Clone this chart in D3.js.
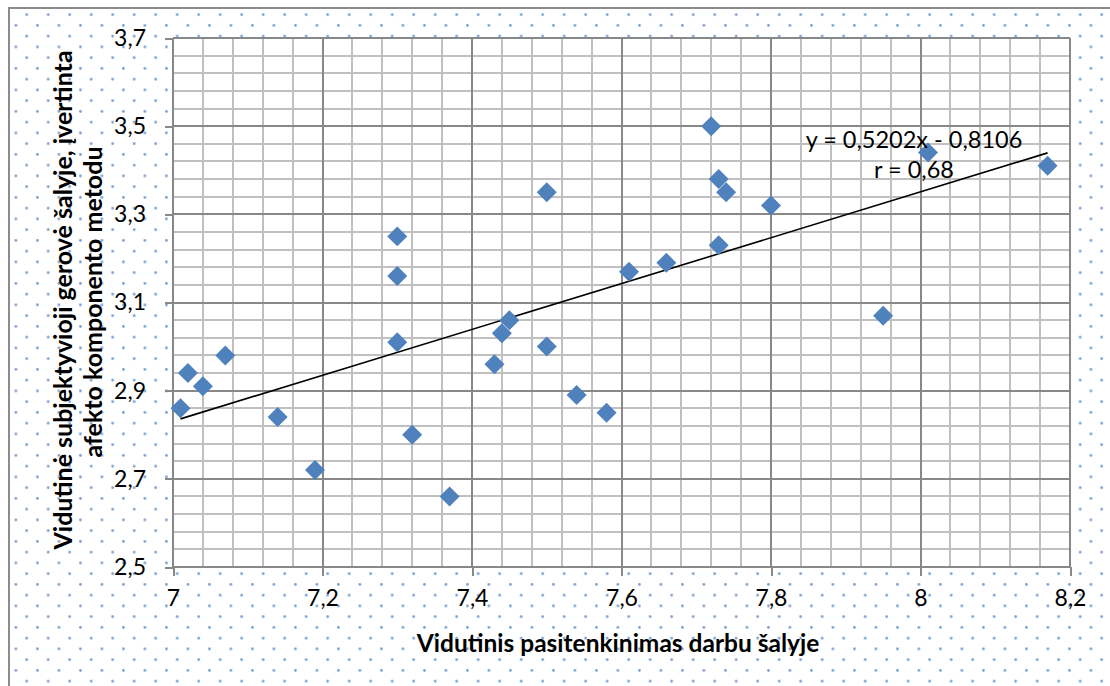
<!DOCTYPE html>
<meta charset="utf-8">
<style>
body { margin: 0; background: #fff; font-family: Lato, "Open Sans", sans-serif; }
.grid-minor line { stroke: #c0c0c0; stroke-width: 2; shape-rendering: crispEdges; }
.grid-major line { stroke: #888888; stroke-width: 2; shape-rendering: crispEdges; }
.axis path { display: none; }
.axis line { stroke: #888888; stroke-width: 2; shape-rendering: crispEdges; }
.axis text { font-family: Lato, sans-serif; font-size: 23px; fill: #000; }
.title { font-family: Lato, sans-serif; font-weight: bold; fill: #000; }
</style>
<script src="https://d3js.org/d3.v7.min.js"></script>
<body>
<div id="chart"></div>
<script>
// data
var xVals = [7.01, 7.02, 7.04, 7.07, 7.14, 7.19, 7.30, 7.30, 7.30, 7.32, 7.37, 7.43, 7.44, 7.45,
             7.50, 7.50, 7.54, 7.58, 7.61, 7.66, 7.72, 7.73, 7.74, 7.73, 7.80, 7.95, 8.01, 8.17];
var yVals = [2.86, 2.94, 2.91, 2.98, 2.84, 2.72, 3.25, 3.16, 3.01, 2.80, 2.66, 2.96, 3.03, 3.06,
             3.35, 3.00, 2.89, 2.85, 3.17, 3.19, 3.50, 3.38, 3.35, 3.23, 3.32, 3.07, 3.44, 3.41];
var xTicks = [7, 7.2, 7.4, 7.6, 7.8, 8, 8.2];
var yTicks = [2.5, 2.7, 2.9, 3.1, 3.3, 3.5, 3.7];
var trend = {slope: 0.5202, intercept: -0.8106};
var eqLabel = "y = 0,5202x - 0,8106";
var rLabel = "r = 0,68";
var xTitle = "Vidutinis pasitenkinimas darbu šalyje";
var yTitle = ["Vidutinė subjektyvioji gerovė šalyje, įvertinta", "afekto komponento metodu"];

var W = 1110, H = 686;
var margin = {top: 38, right: 40, bottom: 119, left: 173},
    width = 1070 - margin.left,
    height = 567 - margin.top;

var svg = d3.select("#chart").append("svg")
  .attr("width", W).attr("height", H);

// dotted background pattern
var pat = svg.append("defs").append("pattern")
  .attr("id", "dots")
  .attr("patternUnits", "userSpaceOnUse")
  .attr("x", -0.2).attr("y", 9.3)
  .attr("width", 21.5).attr("height", 21.5);
pat.append("circle").attr("cx", 5.375).attr("cy", 5.375).attr("r", 1.4).attr("fill", "#7aa0d2");
pat.append("circle").attr("cx", 16.125).attr("cy", 16.125).attr("r", 1.4).attr("fill", "#7aa0d2");

svg.append("rect").attr("x", 0).attr("y", 0).attr("width", W).attr("height", H).attr("fill", "#fff");
svg.append("rect")
  .attr("x", 9).attr("y", 8).attr("width", W + 20).attr("height", H + 20)
  .attr("fill", "url(#dots)")
  .attr("stroke", "#8c8c8c").attr("stroke-width", 2);

var g = svg.append("g")
  .attr("transform", "translate(" + margin.left + "," + margin.top + ")");

var x = d3.scaleLinear().domain([7, 8.2]).range([0, width]);
var y = d3.scaleLinear().domain([2.5, 3.7]).range([height, 0]);

g.append("rect").attr("width", width).attr("height", height).attr("fill", "#fff");

var fmt = function(d) { return String(+d.toFixed(1)).replace(".", ","); };

// minor grid every 0.04
var xMinor = d3.range(0, 31).map(function(i) { return 7 + i * 0.04; });
var yMinor = d3.range(0, 31).map(function(i) { return 2.5 + i * 0.04; });

g.append("g").attr("class", "grid-minor")
  .selectAll("line").data(xMinor).enter().append("line")
  .attr("x1", function(d) { return x(d); }).attr("x2", function(d) { return x(d); })
  .attr("y1", 0).attr("y2", height);
g.append("g").attr("class", "grid-minor")
  .selectAll("line").data(yMinor).enter().append("line")
  .attr("y1", function(d) { return y(d); }).attr("y2", function(d) { return y(d); })
  .attr("x1", 0).attr("x2", width);

// major grid
g.append("g").attr("class", "grid-major")
  .selectAll("line").data(xTicks).enter().append("line")
  .attr("x1", function(d) { return x(d); }).attr("x2", function(d) { return x(d); })
  .attr("y1", 0).attr("y2", height);
g.append("g").attr("class", "grid-major")
  .selectAll("line").data(yTicks).enter().append("line")
  .attr("y1", function(d) { return y(d); }).attr("y2", function(d) { return y(d); })
  .attr("x1", 0).attr("x2", width);

// axes
g.append("g").attr("class", "axis")
  .attr("transform", "translate(0," + height + ")")
  .call(d3.axisBottom(x).tickValues(xTicks).tickFormat(fmt).tickSize(9).tickPadding(14));
g.append("g").attr("class", "axis")
  .call(d3.axisLeft(y).tickValues(yTicks).tickFormat(fmt).tickSize(8).tickPadding(19));

// trend line
var xExt = d3.extent(xVals);
g.append("line")
  .attr("x1", x(xExt[0])).attr("y1", y(trend.slope * xExt[0] + trend.intercept))
  .attr("x2", x(xExt[1])).attr("y2", y(trend.slope * xExt[1] + trend.intercept))
  .attr("stroke", "#000").attr("stroke-width", 1.6);

// points
var pts = xVals.map(function(d, i) { return {x: d, y: yVals[i]}; });
g.selectAll(".pt").data(pts).enter().append("path")
  .attr("class", "pt")
  .attr("d", d3.symbol().type(d3.symbolSquare).size(200))
  .attr("transform", function(d) { return "translate(" + x(d.x) + "," + y(d.y) + ") rotate(45)"; })
  .attr("fill", "#4f81bd");

// equation
svg.append("text").attr("x", 914).attr("y", 148).attr("text-anchor", "middle")
  .style("font-size", "23.5px").text(eqLabel);
svg.append("text").attr("x", 914).attr("y", 178).attr("text-anchor", "middle")
  .style("font-size", "23.5px").text(rLabel);

// titles
svg.append("text").attr("class", "title").style("font-size", "24.5px")
  .attr("x", 618).attr("y", 652).attr("text-anchor", "middle").text(xTitle);
svg.append("text").attr("class", "title").style("font-size", "25px")
  .attr("transform", "translate(72,300) rotate(-90)").attr("text-anchor", "middle").text(yTitle[0]);
svg.append("text").attr("class", "title").style("font-size", "25px")
  .attr("transform", "translate(102,302) rotate(-90)").attr("text-anchor", "middle").text(yTitle[1]);
</script>
</body>
